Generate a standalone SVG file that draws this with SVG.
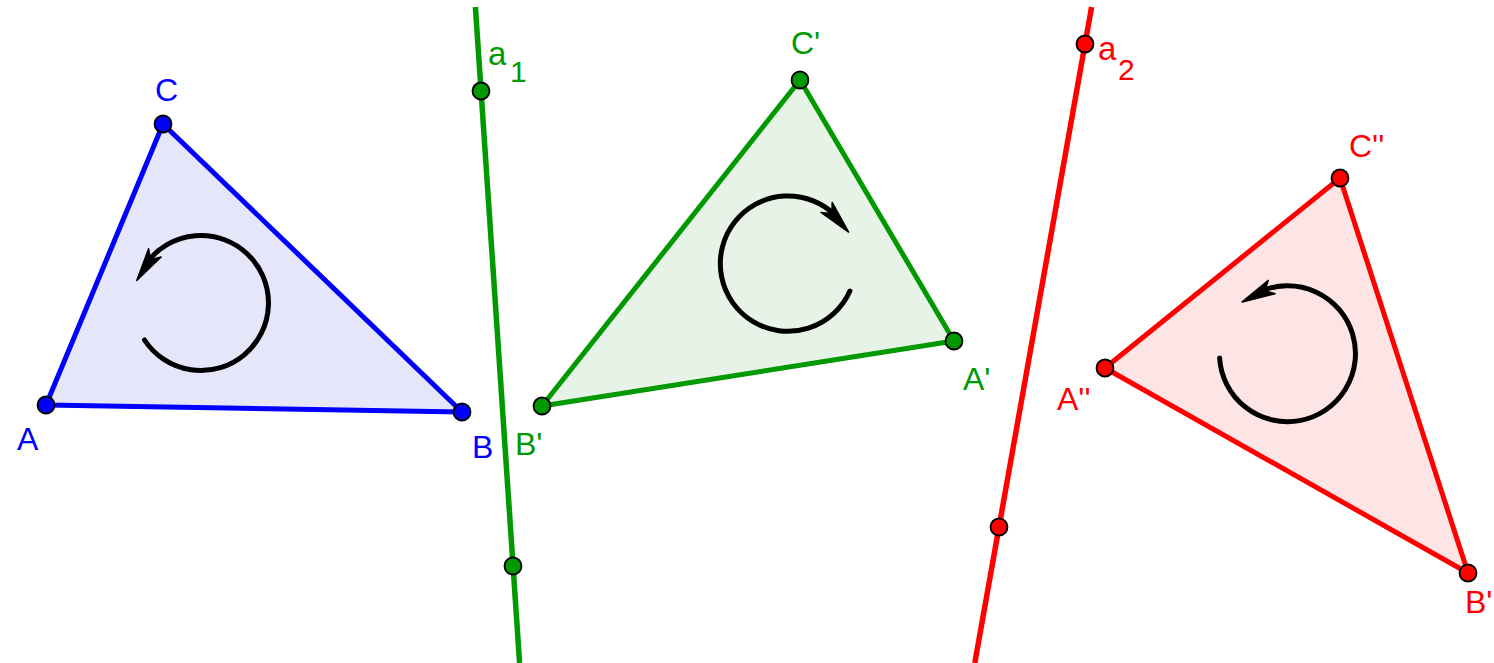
<svg xmlns="http://www.w3.org/2000/svg" xmlns:xlink="http://www.w3.org/1999/xlink" width="1494" height="663" viewBox="0 0 1494 663">
<style>
  .lbl { font-family: "Liberation Sans", Arial, sans-serif; font-size: 32px; }
  .blue { fill: #0000ff; }
  .green { fill: #009900; }
  .red { fill: #ff0000; }
  .tri { stroke-width: 5; stroke-linejoin: round; }
  .axis { stroke-width: 5.5; fill: none; }
  .pt { stroke: #000; stroke-width: 1.8; }
  .rot { fill: none; stroke: #000; stroke-width: 5; stroke-linecap: round; }
</style>
<defs>
  <path id="ah" d="M3,0 L-30,-7.5 L-22,0 L-30,7.5 Z" fill="#000" stroke="#000" stroke-width="1.5" stroke-linejoin="round"/>
</defs>
<rect width="1494" height="663" fill="#fff"/>

<g id="connectors">
  <line id="a1" class="axis" x1="475.4" y1="7" x2="519.6" y2="663" stroke="#009900"/>
  <line id="a2" class="axis" x1="1091.6" y1="7" x2="974.8" y2="663" stroke="#ff0000"/>
</g>

<g id="triangle-ABC">
  <polygon class="tri" points="46,405 462,412 163,124" fill="#e6e6fa" stroke="#0000ff"/>
  <path class="rot" d="M144.5,340 A67.5,67.5 0 1 0 146.9,262.6"/>
  <use xlink:href="#ah" href="#ah" transform="translate(138.4,278) rotate(123.3)"/>
</g>

<g id="triangle-A1B1C1">
  <polygon class="tri" points="954,341 542,406 800,80" fill="#e6f3e6" stroke="#009900"/>
  <path class="rot" d="M849.9,291.1 A67.7,67.7 0 1 1 835.9,215.8"/>
  <use xlink:href="#ah" href="#ah" transform="translate(846.6,229.8) rotate(48.2)"/>
</g>

<g id="triangle-A2B2C2">
  <polygon class="tri" points="1105,368 1468,573 1340,178" fill="#fde5e5" stroke="#ff0000"/>
  <path class="rot" d="M1219.6,358.1 A68,68 0 1 0 1260.2,291.4"/>
  <use xlink:href="#ah" href="#ah" transform="translate(1244.9,300.6) rotate(153.2)"/>
</g>

<g id="points">
  <circle id="A" class="pt" cx="46" cy="405" r="8.5" fill="#0000ff"/>
  <circle id="B" class="pt" cx="462" cy="412" r="8.5" fill="#0000ff"/>
  <circle id="C" class="pt" cx="163" cy="124" r="8.5" fill="#0000ff"/>
  <circle id="P1" class="pt" cx="481" cy="91" r="8.5" fill="#009900"/>
  <circle id="P2" class="pt" cx="513" cy="566" r="8.5" fill="#009900"/>
  <circle id="A1" class="pt" cx="954" cy="341" r="8.5" fill="#009900"/>
  <circle id="B1" class="pt" cx="542" cy="406" r="8.5" fill="#009900"/>
  <circle id="C1" class="pt" cx="800" cy="80" r="8.5" fill="#009900"/>
  <circle id="Q1" class="pt" cx="1085" cy="44" r="8.5" fill="#ff0000"/>
  <circle id="Q2" class="pt" cx="999" cy="527" r="8.5" fill="#ff0000"/>
  <circle id="A2" class="pt" cx="1105" cy="368" r="8.5" fill="#ff0000"/>
  <circle id="B2" class="pt" cx="1468" cy="573" r="8.5" fill="#ff0000"/>
  <circle id="C2" class="pt" cx="1340" cy="178" r="8.5" fill="#ff0000"/>
</g>

<g id="labels">
  <text class="lbl blue" x="155" y="101">C</text>
  <text class="lbl blue" x="17" y="450">A</text>
  <text class="lbl blue" x="472" y="458">B</text>
  <text class="lbl green" x="791" y="54">C'</text>
  <text class="lbl green" x="963" y="390">A'</text>
  <text class="lbl green" x="515" y="455">B'</text>
  <text class="lbl green" x="488" y="65" style="font-size:33px">a</text>
  <text class="lbl green" x="510" y="82" style="font-size:30px">1</text>
  <text class="lbl red" x="1349" y="157">C''</text>
  <text class="lbl red" x="1057" y="410">A''</text>
  <text class="lbl red" x="1465" y="613">B'</text>
  <text class="lbl red" x="1098" y="60" style="font-size:33px">a</text>
  <text class="lbl red" x="1118" y="80" style="font-size:30px">2</text>
</g>
</svg>
